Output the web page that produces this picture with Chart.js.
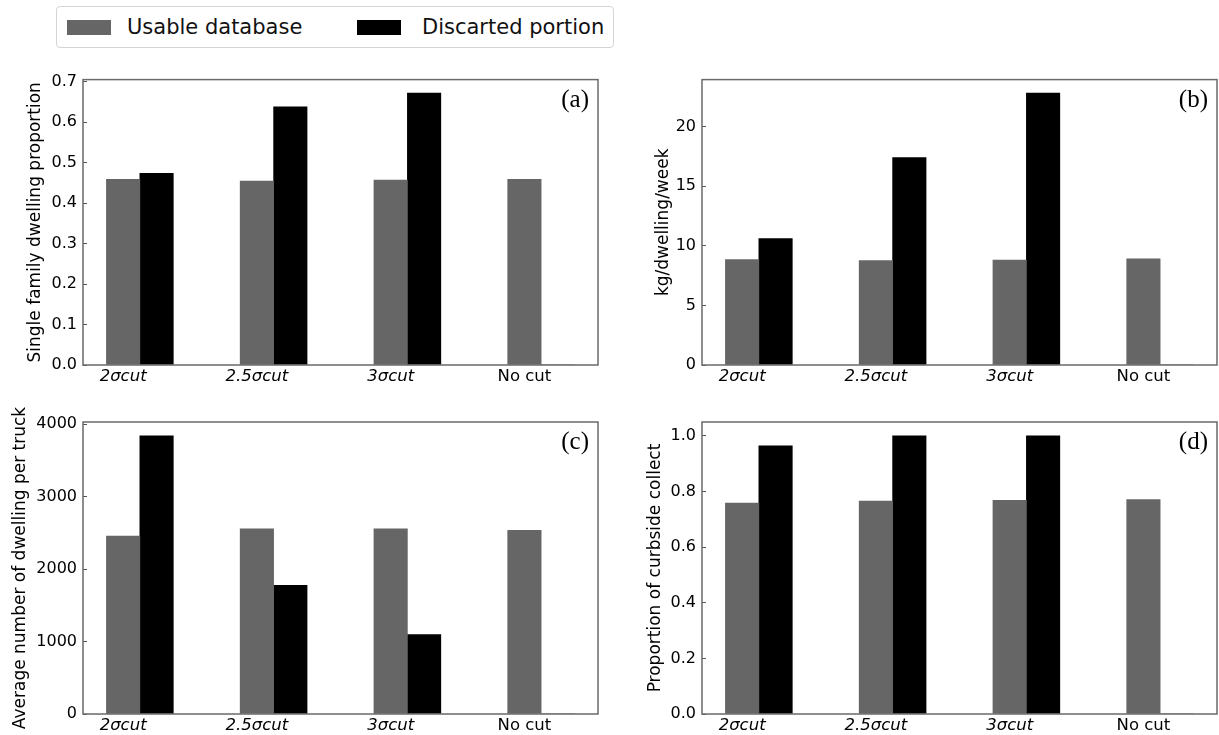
<!DOCTYPE html>
<html>
<head>
<meta charset="utf-8">
<script src="https://cdn.jsdelivr.net/npm/chart.js@4.4.1/dist/chart.umd.min.js"></script>
<style>
  body { margin: 0; background: #fff; width: 1219px; height: 735px; position: relative; overflow: hidden; font-family: 'DejaVu Sans', sans-serif; }
  canvas { position: absolute; }
  #legend { position: absolute; left: 56px; top: 6px; width: 558px; height: 42px; border: 1px solid #d4d4d4; border-radius: 4px; box-sizing: border-box; }
  .sw { position: absolute; top: 13px; width: 44px; height: 15px; }
  .lt { position: absolute; top: 7px; font-size: 21px; line-height: 26px; color: #111; white-space: nowrap; }
</style>
</head>
<body>
<div id="legend"></div>
<canvas id="chartA" width="615" height="330" style="left:0;top:60px"></canvas>
<canvas id="chartB" width="604" height="330" style="left:615px;top:60px"></canvas>
<canvas id="chartC" width="615" height="345" style="left:0;top:390px"></canvas>
<canvas id="chartD" width="604" height="345" style="left:615px;top:390px"></canvas>
<script>
Chart.defaults.font.family = "'DejaVu Sans', sans-serif";
Chart.defaults.color = '#000';

const categories = ['2σcut', '2.5σcut', '3σcut', 'No cut'];
const seriesNames = ['Usable database', 'Discarted portion'];
const seriesColors = ['#666666', '#000000'];

// (a) single family dwelling proportion
const usableA = [0.459, 0.455, 0.457, 0.459];
const discardedA = [0.474, 0.638, 0.672, 0];
const yTickLabelsA = ['0.0', '0.1', '0.2', '0.3', '0.4', '0.5', '0.6', '0.7'];

// (b) kg/dwelling/week
const usableB = [8.85, 8.75, 8.8, 8.9];
const discardedB = [10.6, 17.4, 22.8, 0];
const yTickLabelsB = ['0', '5', '10', '15', '20'];

// (c) dwellings per truck
const usableC = [2455, 2555, 2555, 2535];
const discardedC = [3838, 1775, 1095, 0];
const yTickLabelsC = ['0', '1000', '2000', '3000', '4000'];

// (d) curbside collect
const usableD = [0.758, 0.766, 0.768, 0.771];
const discardedD = [0.964, 1.0, 1.0, 0];
const yTickLabelsD = ['0.0', '0.2', '0.4', '0.6', '0.8', '1.0'];

const yTitles = ['Single family dwelling proportion', 'kg/dwelling/week', 'Average number of dwelling per truck', 'Proportion of curbside collect'];
const panelTags = ['(a)', '(b)', '(c)', '(d)'];

const barWidth = 0.25;

// legend
const legend = document.getElementById('legend');
const legendPos = [[10, 70], [300, 365]];
seriesNames.forEach((name, i) => {
  const sw = document.createElement('div');
  sw.className = 'sw';
  sw.style.left = legendPos[i][0] + 'px';
  sw.style.background = seriesColors[i];
  legend.appendChild(sw);
  const t = document.createElement('div');
  t.className = 'lt';
  t.style.left = legendPos[i][1] + 'px';
  t.textContent = name;
  legend.appendChild(t);
});

const framePlugin = {
  id: 'frame',
  afterDraw(chart, args, opts) {
    const { ctx, chartArea: a } = chart;
    ctx.save();
    ctx.strokeStyle = '#6a6a6a';
    ctx.lineWidth = 1.5;
    ctx.strokeRect(a.left, a.top, a.right - a.left, a.bottom - a.top);
    ctx.font = '25px "Liberation Serif"';
    ctx.fillStyle = '#000';
    ctx.textAlign = 'right';
    ctx.textBaseline = 'top';
    ctx.fillText(opts.tag, a.right - 9, a.top + 8);
    ctx.restore();
  }
};

function makeChart(id, usable, discarded, yLabels, title, tag, box) {
  const lo = -barWidth / 2;
  const hi = categories.length - 1 + barWidth * 1.5;
  const margin = (hi - lo) * 0.05;
  const yValues = yLabels.map(Number);
  const yMax = Math.max(...usable, ...discarded) * 1.05;

  return new Chart(document.getElementById(id), {
    type: 'bar',
    data: {
      datasets: [
        { label: seriesNames[0], data: usable.map((v, i) => ({ x: i, y: v })), backgroundColor: seriesColors[0] },
        { label: seriesNames[1], data: discarded.map((v, i) => ({ x: i + barWidth, y: v })), backgroundColor: seriesColors[1] }
      ]
    },
    options: {
      responsive: false,
      animation: false,
      devicePixelRatio: 1,
      datasets: { bar: { grouped: false, categoryPercentage: 1, barPercentage: 1, borderWidth: 0 } },
      layout: { padding: { top: box.top, right: box.right, left: 0, bottom: 0 } },
      plugins: { legend: { display: false }, tooltip: { enabled: false }, frame: { tag: tag } },
      scales: {
        x: {
          type: 'linear',
          offset: false,
          min: lo - margin,
          max: hi + margin,
          afterBuildTicks: s => { s.ticks = categories.map((c, i) => ({ value: i })); },
          afterFit: s => { s.height = box.xHeight; },
          ticks: {
            callback: (v, i) => categories[i],
            padding: 6,
            autoSkip: false,
            maxRotation: 0,
            font: ctx => ({ size: 16.5, style: categories[ctx.index] && categories[ctx.index].includes('σ') ? 'italic' : 'normal' })
          },
          grid: { offset: false, drawOnChartArea: false, tickLength: -4, color: '#555' },
          border: { display: false }
        },
        y: {
          min: 0,
          max: yMax,
          afterBuildTicks: s => { s.ticks = yValues.map(v => ({ value: v })); },
          afterFit: s => { s.width = box.yWidth; },
          ticks: { callback: (v, i) => yLabels[i], padding: 10, font: { size: 16 } },
          grid: { drawOnChartArea: false, tickLength: -4, color: '#555' },
          border: { display: false },
          title: { display: true, text: title, font: { size: 17 }, padding: { top: box.titlePad, bottom: 0 } }
        }
      }
    },
    plugins: [framePlugin]
  });
}

makeChart('chartA', usableA, discardedA, yTickLabelsA, yTitles[0], panelTags[0], { top: 13, right: 17, xHeight: 25, yWidth: 83, titlePad: 25 });
makeChart('chartB', usableB, discardedB, yTickLabelsB, yTitles[1], panelTags[1], { top: 13, right: 2, xHeight: 25, yWidth: 87, titlePad: 38 });
makeChart('chartC', usableC, discardedC, yTickLabelsC, yTitles[2], panelTags[2], { top: 32, right: 17, xHeight: 21, yWidth: 83, titlePad: 10 });
makeChart('chartD', usableD, discardedD, yTickLabelsD, yTitles[3], panelTags[3], { top: 32, right: 2, xHeight: 21, yWidth: 87, titlePad: 30 });
</script>
</body>
</html>
